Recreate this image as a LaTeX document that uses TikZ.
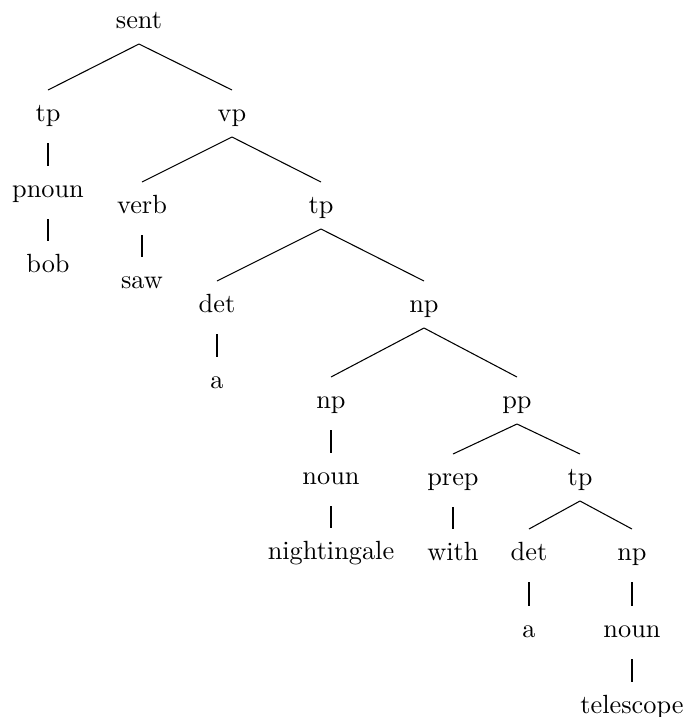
\documentclass[tikz,border=0pt]{standalone}
\usetikzlibrary{calc}
\begin{document}
\begin{tikzpicture}[x=0.38pt,y=-0.38pt,
  lbl/.style={anchor=base,inner sep=0pt,font=\normalsize},
  edge/.style={line width=0.4pt}]
\useasboundingbox (0,0) rectangle (689,717);
% nodes (baseline positions)
\node[lbl] (sent) at (139,28) {sent};
\node[lbl] (tpA) at (48,121) {tp};
\node[lbl] (vp) at (232,121) {vp};
\node[lbl] (pnoun) at (48,197) {pnoun};
\node[lbl] (verb) at (142,213) {verb};
\node[lbl] (tpB) at (321,213) {tp};
\node[lbl] (bob) at (48,272) {bob};
\node[lbl] (saw) at (142,288) {saw};
\node[lbl] (detA) at (217,312) {det};
\node[lbl] (npA) at (424,312) {np};
\node[lbl] (aA) at (217,388) {a};
\node[lbl] (npB) at (331,408) {np};
\node[lbl] (pp) at (517,408) {pp};
\node[lbl] (nounA) at (331,484) {noun};
\node[lbl] (prep) at (453,485) {prep};
\node[lbl] (tpC) at (580,485) {tp};
\node[lbl] (night) at (331,559) {nightingale};
\node[lbl] (with) at (453,560) {with};
\node[lbl] (detB) at (529,560) {det};
\node[lbl] (npC) at (632,560) {np};
\node[lbl] (aB) at (529,637) {a};
\node[lbl] (nounB) at (632,637) {noun};
\node[lbl] (tele) at (632,713) {telescope};
% branching edges
\foreach \p/\c in {sent/tpA,sent/vp,vp/verb,vp/tpB,tpB/detA,tpB/npA,npA/npB,npA/pp,pp/prep,pp/tpC,tpC/detB,tpC/npC}
  \draw[edge] ($(\p.base)+(0,16)$) -- ($(\c.base)+(0,-31)$);
% unary edges
\foreach \p/\c in {tpA/pnoun,pnoun/bob,verb/saw,detA/aA,npB/nounA,nounA/night,prep/with,detB/aB,npC/nounB,nounB/tele}
  \draw[edge] ($(\p.base)+(0,22)$) -- ($(\c.base)+(0,-31)$);
\end{tikzpicture}
\end{document}
